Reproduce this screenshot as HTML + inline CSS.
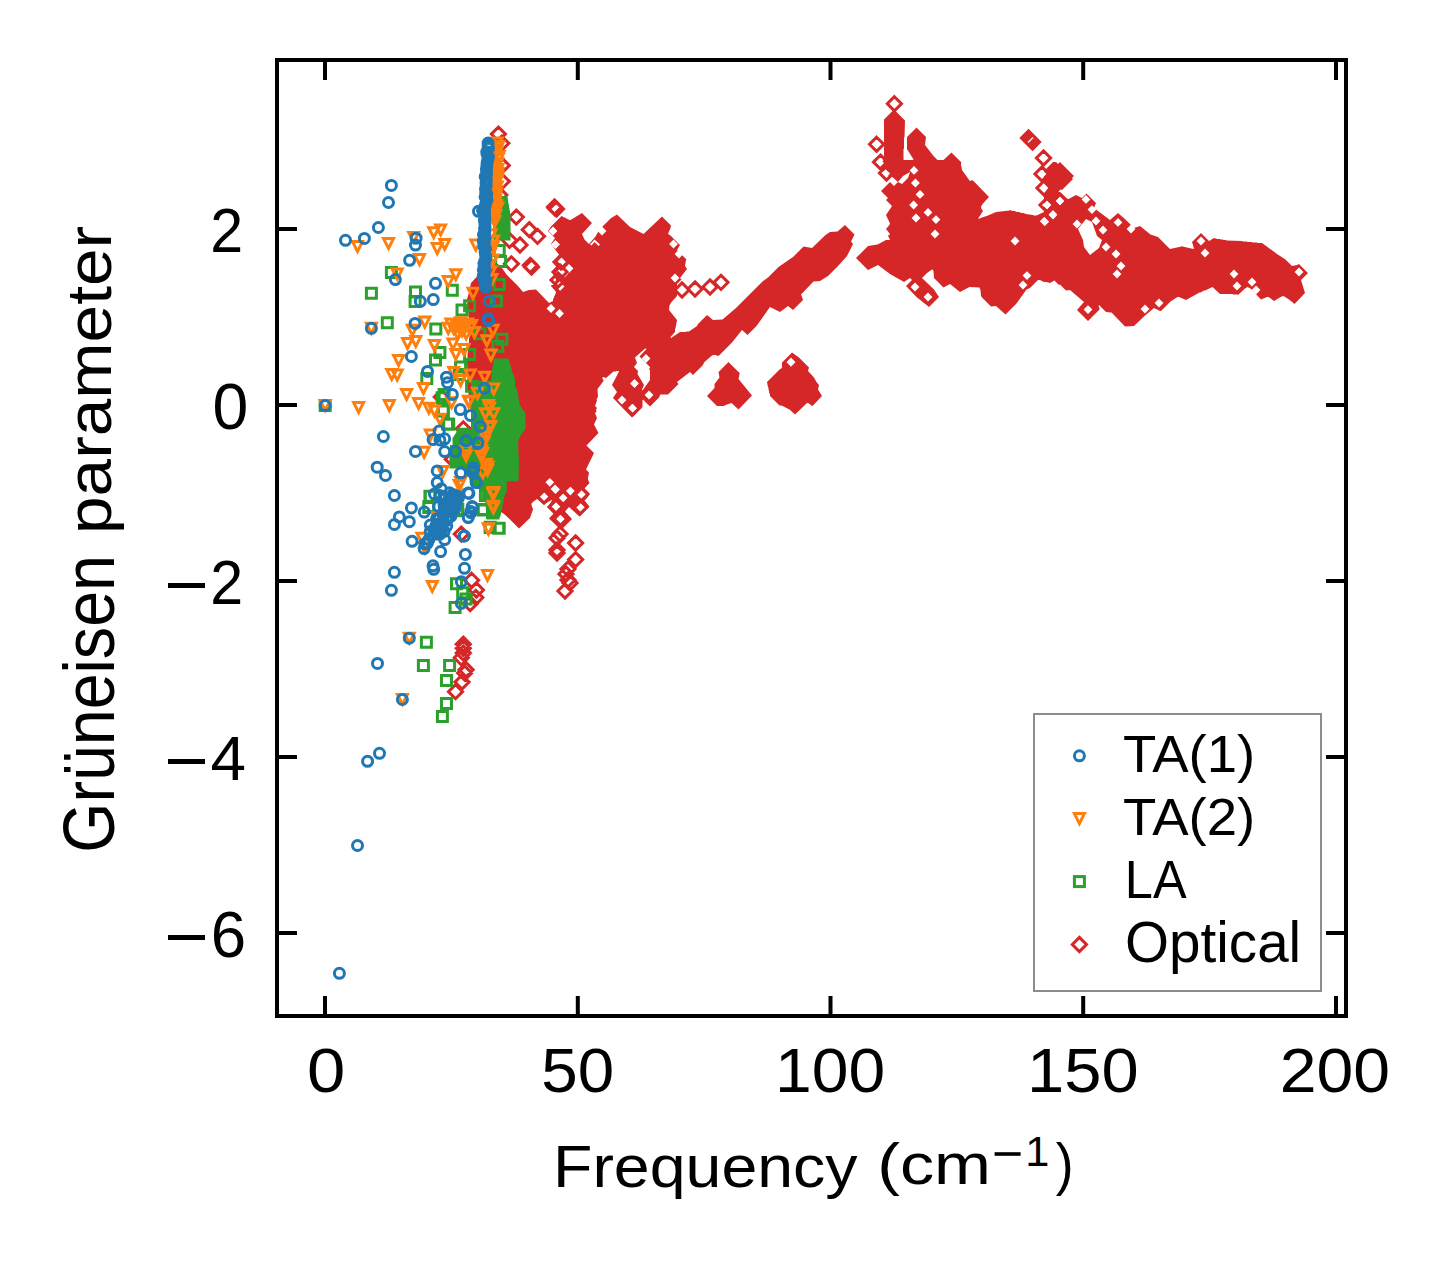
<!DOCTYPE html>
<html><head><meta charset="utf-8"><title>Gruneisen parameter</title>
<style>
html,body{margin:0;padding:0;background:#fff;}
body{width:1451px;height:1264px;overflow:hidden;font-family:"Liberation Sans",sans-serif;}
svg{display:block;}
text{font-family:"Liberation Sans",sans-serif;fill:#000;}
</style></head><body>
<svg width="1451" height="1264" viewBox="0 0 1451 1264">
<rect width="1451" height="1264" fill="#fff"/>
<defs>
<clipPath id="ax"><rect x="277" y="60" width="1069" height="956"/></clipPath>
</defs>
<g id="data" clip-path="url(#ax)">
<path d="M728.5 362 718.5 372 719.5 377.5 714.5 384 714.5 388 707 396 717 406 724 406 725.5 405 731.5 403 738.5 409.5 752 395.5 738.5 379 739.5 374 740 373.5zM792 352.5 782 362.5 782 368 779.5 369.5 767 382 767 383 767.5 383.5 767.5 385.5 768.5 388 768.5 390 769 390.5 769 392.5 770 394.5 770 396 779.5 405.5 781.5 405.5 789.5 409.5 795 414.5 807 403 809 403.5 812 406 813 405.5 822 396 818 389.5 819 385 816.5 382 814 377.5 808 371 809 367.5 799 357.5zM854.5 234.5 845 225 837.5 231.5 830 232 825.5 235 812 248 803.5 246.5 793 257 778.5 267 768 277.5 762.5 281.5 736 308 722.5 319.5 713 320 707 315 698 324 697 326 689 331.5 686 331.5 685.5 332 680 332 671 338 670.5 337 675 332 675 329 675.5 328.5 677 320 669 310 669.5 305.5 671.5 302 677 296 677 284 681.5 279.5 680 278 687 269 685 266 686 260 686.5 259.5 677 250 680 245 670.5 235.5 668 234 670.5 228 671 225.5 662 216.5 643.5 234 630 227 617 214.5 610.5 218.5 599.5 229.5 595.5 236.5 589 244 584.5 239.5 582 234 592 223 582 213 570.5 220 569.5 220 561.5 216 551 226.5 548 231 555 238 551 244 560 256 554 262 557 268 553 274 556 279.5 555.5 282 553 288 555.5 291 556 292.5 553 299.5 553 301 549 303 536 289.5 529 290 523 292 518 286 506.5 274.5 502 268 492.5 259 483.5 268 483 270 471 283 469.5 290 469 290.5 469 292.5 467 299 468 312 468.5 312.5 468.5 317 469 317.5 469 322 469.5 322.5 469.5 327 470 327.5 470 332.5 469.5 333 469.5 337.5 469 338 469 342.5 468.5 343 468.5 347.5 468 348 468 352.5 467.5 353 467.5 357.5 467 358 467.5 382 468 382.5 468 391.5 468.5 392 468.5 395.5 469 396 469.5 403 470 403.5 470.5 410.5 471 411 471.5 418 472 418.5 470 450.5 470.5 451 471.5 456.5 472.5 458.5 472.5 460 474.5 466 474.5 467.5 476.5 473.5 478 480.5 484 492 484 493 487.5 500 497.5 510 504 514 508.5 518 519 528.5 530 518 533 509.5 531.5 505 531.5 503.5 533.5 501.5 537 499 543.5 504.5 551.5 500 552 500.5 548.5 506 554.5 512.5 549 518.5 561 530 572 519 565 511.5 569 507 579.5 516.5 589.5 506.5 584.5 500.5 587 498 589 495 583.5 489.5 589.5 483 588 479.5 588 476.5 588.5 476 589 472.5 586 469.5 594 453 586.5 445.5 598.5 433 594 424.5 597 418 595 413 596.5 411.5 596 409.5 597 408 595 406 597 400.5 596.5 399.5 598 396.5 597.5 389 603.5 381 603.5 380 602.5 379 602.5 377.5 603.5 377 606 378 613.5 371.5 616 371.5 616.5 371 618.5 371 619 371.5 612 385 617 392 613 398 632 417.5 642.5 407 642.5 400 643 399.5 650 406.5 659.5 397 659.5 396 660.5 394.5 668 394.5 678.5 384 677 382 690 372 693 375 702.5 365.5 704.5 362 712 355.5 713 355 715.5 355 718 356 719 355.5 732 342.5 742 330 747.5 335 756.5 326 770 307 780 312 788 306 793 310 803 300 801 294 802 293.5 813.5 281.5 820 281 828 276 838.5 265.5 847 256 853 244 851 241.5zM646 348.5 646.5 349 639.5 356.5 650 367 650 368 649 369 650 370.5 650 380 642.5 390.5 642 389.5 644 385 637.5 374 638 371 634 367 637 363 635 357.5 644.5 349zM884 119.5 884 159.5 878 166 888 176 890 175 898 182 894 186 890 182 881 191 888 198 886 200 892 206 886 215 890 223.5 889 225.5 886 229 890 234 888 236 890 239.5 889.5 240 886 240 877.5 244.5 868 246 856 258 868 270 878 265 890 274 904 282 910 278 912 280 906 286 916.5 297 929 307 939 297 934 289.5 922 278 927 273 932 269.5 933 270 933.5 271.5 934 278 943.5 287.5 950 284 960 292 969.5 287 979.5 287.5 980.5 290 981 296 982 297.5 991 306.5 996 306 1005.5 314.5 1016.5 303.5 1026.5 289.5 1030 288 1038 280 1040 280 1044 282 1046.5 282 1050 283 1054.5 280.5 1059 285 1060 284.5 1066 290.5 1070 290 1084 302 1077 310 1088 321 1099.5 309.5 1099.5 308 1098.5 306 1099 305 1106 312 1111.5 312.5 1125 326.5 1134 326 1144.5 316 1154 308 1160 311 1161 311 1170.5 301.5 1177.5 297 1179 297 1186 300 1199.5 292.5 1200.5 292.5 1204 290.5 1205 290.5 1212.5 287 1220 294 1232.5 294 1233 294.5 1237.5 294.5 1238 295 1245 288.5 1247.5 287 1250.5 288.5 1261 299.5 1267 297 1268.5 297 1274 301 1281.5 296.5 1283.5 296 1289 299.5 1294.5 304 1305 293 1301 280 1308 273 1299 264 1297 265 1292 266 1285.5 259.5 1277 254 1262 243 1257.5 243 1257 242.5 1252.5 242.5 1252 242 1247.5 242 1247 241.5 1242.5 241.5 1242 241 1226.5 240.5 1226 240 1223.5 240 1223 239.5 1220.5 239.5 1220 239 1217.5 239 1214 238 1209 241 1201 233 1192 242 1194 248.5 1193.5 249 1182.5 246.5 1182 246 1181.5 246.5 1170 249 1158 237 1150.5 234.5 1140 226 1134 228 1126 220 1118 213 1110 220 1094 208 1096 203 1086.5 193.5 1082 198 1076 195 1068.5 199 1067 198.5 1058.5 191.5 1060.5 189.5 1062 190 1073 179 1072 178 1074 176 1060 162 1058 164 1056 162 1053 162 1044 171 1044 188 1047.5 191.5 1044 195 1044 212 1036.5 215.5 1033.5 215.5 1033 215 1026 214 1023.5 213 1021.5 213 1019 212 1017 212 1014.5 211 1012.5 211 1010 210 1009.5 210.5 996 212 988 215.5 980.5 218 979 219 978.5 218 983 211 981.5 209 981 206.5 983 203.5 989 197 973.5 181 972 180 970.5 181 969.5 180.5 962 170 961.5 166.5 961 166 961 163 961.5 162.5 951.5 152.5 943.5 160 937.5 160 933.5 156 925 145 926 137 916.5 127.5 907 137 907 149 913.5 159.5 913 160 904 160 903.5 159.5 903.5 149 904 148.5 904 137.5 904.5 137 905 120.5 894 109.5z" fill="#d62728" fill-rule="evenodd"/>
<path d="M879.6 158.6l4.4 4.4-4.4 4.4-4.4-4.4zM885.6 169.2l4.4 4.4-4.4 4.4-4.4-4.4zM914 166l4.4 4.4-4.4 4.4-4.4-4.4zM915.4 178.6l4.4 4.4-4.4 4.4-4.4-4.4zM920 190l4.4 4.4-4.4 4.4-4.4-4.4zM913.6 200.6l4.4 4.4-4.4 4.4-4.4-4.4zM928 208l4.4 4.4-4.4 4.4-4.4-4.4zM936 215.2l4.4 4.4-4.4 4.4-4.4-4.4zM916 213.6l4.4 4.4-4.4 4.4-4.4-4.4zM935 229.6l4.4 4.4-4.4 4.4-4.4-4.4zM915 282.6l4.4 4.4-4.4 4.4-4.4-4.4zM928 292.6l4.4 4.4-4.4 4.4-4.4-4.4zM1042 169.6l4.4 4.4-4.4 4.4-4.4-4.4zM1044 183.6l4.4 4.4-4.4 4.4-4.4-4.4zM1047 200.6l4.4 4.4-4.4 4.4-4.4-4.4zM1045 217.6l4.4 4.4-4.4 4.4-4.4-4.4zM1053 209.6l4.4 4.4-4.4 4.4-4.4-4.4zM1015 236.6l4.4 4.4-4.4 4.4-4.4-4.4zM1027 271.2l4.4 4.4-4.4 4.4-4.4-4.4zM1023 280.6l4.4 4.4-4.4 4.4-4.4-4.4zM791 357.6l4.4 4.4-4.4 4.4-4.4-4.4zM1043.6 153.6l4.4 4.4-4.4 4.4-4.4-4.4zM1042 169.6l4.4 4.4-4.4 4.4-4.4-4.4zM1044 183.6l4.4 4.4-4.4 4.4-4.4-4.4zM1047 200.6l4.4 4.4-4.4 4.4-4.4-4.4zM1060 196.6l4.4 4.4-4.4 4.4-4.4-4.4zM1053 210.6l4.4 4.4-4.4 4.4-4.4-4.4zM1044 216.6l4.4 4.4-4.4 4.4-4.4-4.4zM1077 219.6l4.4 4.4-4.4 4.4-4.4-4.4zM1086 195l4.4 4.4-4.4 4.4-4.4-4.4zM1092 205.2l4.4 4.4-4.4 4.4-4.4-4.4zM1096 216.6l4.4 4.4-4.4 4.4-4.4-4.4zM1103 225.6l4.4 4.4-4.4 4.4-4.4-4.4zM1118 218l4.4 4.4-4.4 4.4-4.4-4.4zM1131 224.6l4.4 4.4-4.4 4.4-4.4-4.4zM1106 242.6l4.4 4.4-4.4 4.4-4.4-4.4zM1116 249.6l4.4 4.4-4.4 4.4-4.4-4.4zM1121 261.6l4.4 4.4-4.4 4.4-4.4-4.4zM1117 269.6l4.4 4.4-4.4 4.4-4.4-4.4zM1201 236.6l4.4 4.4-4.4 4.4-4.4-4.4zM1205 248.6l4.4 4.4-4.4 4.4-4.4-4.4zM1088 305.2l4.4 4.4-4.4 4.4-4.4-4.4zM1145 304.6l4.4 4.4-4.4 4.4-4.4-4.4zM1159 298.6l4.4 4.4-4.4 4.4-4.4-4.4zM1256 285.6l4.4 4.4-4.4 4.4-4.4-4.4zM1299 267.6l4.4 4.4-4.4 4.4-4.4-4.4zM1252 277.6l4.4 4.4-4.4 4.4-4.4-4.4zM1237 281.6l4.4 4.4-4.4 4.4-4.4-4.4zM1234 269.6l4.4 4.4-4.4 4.4-4.4-4.4zM791 357.9l4.4 4.4-4.4 4.4-4.4-4.4zM634.5 379.1l4.4 4.4-4.4 4.4-4.4-4.4zM622 395.6l4.4 4.4-4.4 4.4-4.4-4.4zM632.5 403.6l4.4 4.4-4.4 4.4-4.4-4.4zM632.8 404l4.4 4.4-4.4 4.4-4.4-4.4zM649 390.6l4.4 4.4-4.4 4.4-4.4-4.4zM646 354.1l4.4 4.4-4.4 4.4-4.4-4.4zM549.8 477.9l4.4 4.4-4.4 4.4-4.4-4.4zM555.5 485.1l4.4 4.4-4.4 4.4-4.4-4.4zM555 484.6l4.4 4.4-4.4 4.4-4.4-4.4zM544.2 492.6l4.4 4.4-4.4 4.4-4.4-4.4zM563.2 493.4l4.4 4.4-4.4 4.4-4.4-4.4zM556 502.1l4.4 4.4-4.4 4.4-4.4-4.4zM570.4 486.7l4.4 4.4-4.4 4.4-4.4-4.4zM581.7 490.3l4.4 4.4-4.4 4.4-4.4-4.4zM580.7 503.2l4.4 4.4-4.4 4.4-4.4-4.4zM560.6 514.5l4.4 4.4-4.4 4.4-4.4-4.4zM562 257.1l4.4 4.4-4.4 4.4-4.4-4.4zM560 268.6l4.4 4.4-4.4 4.4-4.4-4.4zM564 269.1l4.4 4.4-4.4 4.4-4.4-4.4zM558 279.6l4.4 4.4-4.4 4.4-4.4-4.4zM561.5 283.6l4.4 4.4-4.4 4.4-4.4-4.4zM553 226.6l4.4 4.4-4.4 4.4-4.4-4.4zM602 226.6l4.4 4.4-4.4 4.4-4.4-4.4zM673.5 239.6l4.4 4.4-4.4 4.4-4.4-4.4zM679 249.6l4.4 4.4-4.4 4.4-4.4-4.4zM675 273.6l4.4 4.4-4.4 4.4-4.4-4.4zM682 284.6l4.4 4.4-4.4 4.4-4.4-4.4zM551 304.1l4.4 4.4-4.4 4.4-4.4-4.4zM559.5 309.1l4.4 4.4-4.4 4.4-4.4-4.4zM555.5 240.1l4.4 4.4-4.4 4.4-4.4-4.4zM569 264.1l4.4 4.4-4.4 4.4-4.4-4.4zM898 182 903 176 910 172 908 178 902 184zM1080 228 1088 220 1096 238 1100 240 1098 248 1090 253 1085 246 1086 240zM1078 229 1086 219 1092 222 1097 236 1102 240 1099 248 1090 255 1084 247 1083 240zM590 244.5 594.5 239.5 600 244.5 598.5 246 594.5 242 591.5 245.5z" fill="#fff"/>
<path d="M555 200.9l7.07 7.07-7.07 7.07-7.07-7.07zM682 282.9l7.07 7.07-7.07 7.07-7.07-7.07zM695 281.9l7.07 7.07-7.07 7.07-7.07-7.07zM710 279.9l7.07 7.07-7.07 7.07-7.07-7.07zM721 275.3l7.07 7.07-7.07 7.07-7.07-7.07zM544 488.9l7.07 7.07-7.07 7.07-7.07-7.07zM563 490.9l7.07 7.07-7.07 7.07-7.07-7.07zM556 499.9l7.07 7.07-7.07 7.07-7.07-7.07zM580 499.9l7.07 7.07-7.07 7.07-7.07-7.07zM581 486.9l7.07 7.07-7.07 7.07-7.07-7.07zM560 511.9l7.07 7.07-7.07 7.07-7.07-7.07zM560 526.9l7.07 7.07-7.07 7.07-7.07-7.07zM557 530.9l7.07 7.07-7.07 7.07-7.07-7.07zM557 542.9l7.07 7.07-7.07 7.07-7.07-7.07zM557 545.9l7.07 7.07-7.07 7.07-7.07-7.07zM575.6 535.9l7.07 7.07-7.07 7.07-7.07-7.07zM575.6 552.5l7.07 7.07-7.07 7.07-7.07-7.07zM568 561.9l7.07 7.07-7.07 7.07-7.07-7.07zM566 566.9l7.07 7.07-7.07 7.07-7.07-7.07zM568 572.9l7.07 7.07-7.07 7.07-7.07-7.07zM570 575.9l7.07 7.07-7.07 7.07-7.07-7.07zM565 583.9l7.07 7.07-7.07 7.07-7.07-7.07zM632.4 400.9l7.07 7.07-7.07 7.07-7.07-7.07zM894.4 96.7l7.07 7.07-7.07 7.07-7.07-7.07zM876.6 137.2l7.07 7.07-7.07 7.07-7.07-7.07zM880.5 155l7.07 7.07-7.07 7.07-7.07-7.07zM886.5 165.9l7.07 7.07-7.07 7.07-7.07-7.07zM498.4 127l7.07 7.07-7.07 7.07-7.07-7.07zM501.8 136.2l7.07 7.07-7.07 7.07-7.07-7.07zM502.3 158.4l7.07 7.07-7.07 7.07-7.07-7.07zM502.3 174.3l7.07 7.07-7.07 7.07-7.07-7.07zM499.8 187.9l7.07 7.07-7.07 7.07-7.07-7.07zM516.3 210l7.07 7.07-7.07 7.07-7.07-7.07zM529.3 222.6l7.07 7.07-7.07 7.07-7.07-7.07zM554.5 199.9l7.07 7.07-7.07 7.07-7.07-7.07zM556.5 201.9l7.07 7.07-7.07 7.07-7.07-7.07zM537.5 229.3l7.07 7.07-7.07 7.07-7.07-7.07zM520 237.9l7.07 7.07-7.07 7.07-7.07-7.07zM530.3 258.3l7.07 7.07-7.07 7.07-7.07-7.07zM531.5 259.9l7.07 7.07-7.07 7.07-7.07-7.07zM511.4 256.8l7.07 7.07-7.07 7.07-7.07-7.07zM509.5 233.2l7.07 7.07-7.07 7.07-7.07-7.07zM561 254.9l7.07 7.07-7.07 7.07-7.07-7.07zM560 264.9l7.07 7.07-7.07 7.07-7.07-7.07zM558 272.9l7.07 7.07-7.07 7.07-7.07-7.07zM560 278.9l7.07 7.07-7.07 7.07-7.07-7.07zM441.3 389.9l7.07 7.07-7.07 7.07-7.07-7.07zM463.3 421.8l7.07 7.07-7.07 7.07-7.07-7.07zM452.3 452.1l7.07 7.07-7.07 7.07-7.07-7.07zM461.3 527l7.07 7.07-7.07 7.07-7.07-7.07zM1028.5 130.9l7.07 7.07-7.07 7.07-7.07-7.07zM1030.5 132.9l7.07 7.07-7.07 7.07-7.07-7.07zM1032.5 134.9l7.07 7.07-7.07 7.07-7.07-7.07zM1043.5 150.9l7.07 7.07-7.07 7.07-7.07-7.07zM1042 166.9l7.07 7.07-7.07 7.07-7.07-7.07zM1044 180.9l7.07 7.07-7.07 7.07-7.07-7.07zM1047 197.9l7.07 7.07-7.07 7.07-7.07-7.07zM1044.5 214.4l7.07 7.07-7.07 7.07-7.07-7.07zM1053 207.9l7.07 7.07-7.07 7.07-7.07-7.07zM1060 193.9l7.07 7.07-7.07 7.07-7.07-7.07zM471.6 573.2l7.07 7.07-7.07 7.07-7.07-7.07zM476.4 582.9l7.07 7.07-7.07 7.07-7.07-7.07zM475.8 590.4l7.07 7.07-7.07 7.07-7.07-7.07zM470.2 596.6l7.07 7.07-7.07 7.07-7.07-7.07zM463.3 637.1l7.07 7.07-7.07 7.07-7.07-7.07zM463.3 641.2l7.07 7.07-7.07 7.07-7.07-7.07zM463.3 646l7.07 7.07-7.07 7.07-7.07-7.07zM461.3 650.8l7.07 7.07-7.07 7.07-7.07-7.07zM466.1 662.6l7.07 7.07-7.07 7.07-7.07-7.07zM464.7 666l7.07 7.07-7.07 7.07-7.07-7.07zM462 675l7.07 7.07-7.07 7.07-7.07-7.07zM455.5 684.6l7.07 7.07-7.07 7.07-7.07-7.07z" fill="none" stroke="#d62728" stroke-width="3"/>
<path d="M508.5 358.5 493.5 358.5 493 365 492.5 365.5 492.5 369.5 492 370 492 374 491.5 374.5 491.5 378.5 490.5 380.5 471 380.5 471 429 470.5 429.5 458 430 452.5 438 452.5 466.5 455 466.5 458 467.5 466 468.5 467 470 467 471.5 467.5 472 467.5 473.5 468 474 468 475.5 468.5 476 471 486.5 484.5 491 486.5 517.5 500 517.5 501 514 501 512 502.5 507.5 502.5 505.5 503.5 503 503.5 500.5 504 500 504 497 504.5 496.5 506.5 482 507 481.5 518.5 480 518.5 461.5 518 461 517.5 442 521.5 434 525.5 429 525.5 413.5 519.5 404.5 519 399.5 518.5 399 518.5 396 518 395.5 518 392.5 517.5 392 517.5 390.5 515 386 515 378.5 512 371.5 512 370 511 368 511 366.5 510 364.5 510 363zM492 196.5 492 212.5 492.5 213 492.5 223.5 493 224 493.5 240.5 510.5 240.5 510.5 214 510 213.5 510 211 509.5 210.5 509.5 208 509 207.5 509 204.5 508.5 204 507.5 196.5z" fill="#2ca02c" fill-rule="evenodd"/>
<path d="M386.4 267.4h10v10h-10zM366.4 288.3h10v10h-10zM410.5 287h10v10h-10zM410.1 296.6h10v10h-10zM447.3 285.3h10v10h-10zM464.6 300.8h10v10h-10zM457 304.9h10v10h-10zM495.6 197.4h10v10h-10zM495.6 224.9h10v10h-10zM494.2 245.6h10v10h-10zM495.6 256.6h10v10h-10zM494.2 279.4h10v10h-10zM491.4 295.9h10v10h-10zM382.3 317.8h10v10h-10zM430.8 324h10v10h-10zM434.9 347.4h10v10h-10zM430.5 355h10v10h-10zM421.8 373.6h10v10h-10zM464.6 349.5h10v10h-10zM455.6 361.9h10v10h-10zM474.9 328.8h10v10h-10zM496.9 334.3h10v10h-10zM492.8 341.2h10v10h-10zM438.4 406h10v10h-10zM442.5 419.1h10v10h-10zM459 430.8h10v10h-10zM451.5 446.6h10v10h-10zM452.1 457h10v10h-10zM485.9 476.3h10v10h-10zM492.8 472.1h10v10h-10zM505.2 455.6h10v10h-10zM506.6 469.4h10v10h-10zM466.6 381.2h10v10h-10zM454.2 369.4h10v10h-10zM439.1 389.4h10v10h-10zM320.2 400.5h10v10h-10zM425.3 491.2h10v10h-10zM423.9 501.5h10v10h-10zM452.8 504.3h10v10h-10zM478.3 505h10v10h-10zM488 507.1h10v10h-10zM485.2 522.2h10v10h-10zM494.2 523.3h10v10h-10zM451.5 578.7h10v10h-10zM457.7 587.7h10v10h-10zM461.1 593.9h10v10h-10zM450.1 602.4h10v10h-10zM421.4 637.3h10v10h-10zM492.8 486.4h10v10h-10zM480.4 490.5h10v10h-10zM418.4 660.5h10v10h-10zM444.6 660.5h10v10h-10zM441.5 675.4h10v10h-10zM441.5 698.4h10v10h-10zM437.4 711.5h10v10h-10zM451.8 456.7h10v10h-10zM488.4 436.9h10v10h-10zM504.8 436.9h10v10h-10zM506.8 444.2h10v10h-10zM507.3 455.8h10v10h-10zM493.3 456.7h10v10h-10zM506.8 469.7h10v10h-10zM490.8 465.9h10v10h-10zM499.1 468.3h10v10h-10zM487.5 475.5h10v10h-10zM493.3 473.6h10v10h-10zM495.2 481.3h10v10h-10zM483.6 489.1h10v10h-10zM490.4 492.9h10v10h-10zM478.3 504.5h10v10h-10zM487.5 507.4h10v10h-10zM493.7 523.3h10v10h-10zM485.1 522.4h10v10h-10zM438.2 404.9h10v10h-10zM443.7 419.3h10v10h-10zM437.1 392.7h10v10h-10zM458.1 429.3h10v10h-10zM450.9 456.9h10v10h-10zM424.9 491.3h10v10h-10zM423.8 502.4h10v10h-10zM452.6 505.7h10v10h-10zM478.1 504.6h10v10h-10zM488 507.9h10v10h-10z" fill="none" stroke="#2ca02c" stroke-width="3"/>
<path d="M352.5 241.5h10l-5 10zM383.5 238.5h10l-5 10zM408.7 232.5h10l-5 10zM428.7 227.7h10l-5 10zM435.6 224.9h10l-5 10zM439.7 239.4h10l-5 10zM432.2 243.6h10l-5 10zM414.5 254.6h10l-5 10zM392.2 269.1h10l-5 10zM450.8 269.7h10l-5 10zM443.2 276.6h10l-5 10zM468 288.3h10l-5 10zM492.8 202.9h10l-5 10zM488.7 236h10l-5 10zM470.8 240.1h10l-5 10zM366.4 323.3h10l-5 10zM320.2 400.5h10l-5 10zM353.6 402.5h10l-5 10zM384.3 400.5h10l-5 10zM401.6 389.4h10l-5 10zM418.4 383.5h10l-5 10zM413.6 398.4h10l-5 10zM423.9 403.2h10l-5 10zM429.4 406h10l-5 10zM434.9 414.2h10l-5 10zM393.6 355.4h10l-5 10zM386.7 369.4h10l-5 10zM392.2 370.1h10l-5 10zM402.5 338.4h10l-5 10zM410.8 336.4h10l-5 10zM407.4 325.3h10l-5 10zM419.8 317.1h10l-5 10zM429.4 340.5h10l-5 10zM448 339.1h10l-5 10zM450.8 349.5h10l-5 10zM459 344.6h10l-5 10zM485.9 350.1h10l-5 10zM481.8 335.7h10l-5 10zM488 325.3h10l-5 10zM448.7 367.4h10l-5 10zM465.2 370.1h10l-5 10zM479.7 372.2h10l-5 10zM455.6 375.6h10l-5 10zM488.7 383.9h10l-5 10zM446.6 397.7h10l-5 10zM463.9 396.3h10l-5 10zM484.5 403.2h10l-5 10zM488.7 408.7h10l-5 10zM480.4 408.7h10l-5 10zM484.5 422.5h10l-5 10zM480.4 432.2h10l-5 10zM419.1 447.3h10l-5 10zM425.3 430.1h10l-5 10zM461.1 450.8h10l-5 10zM476.3 451.5h10l-5 10zM482.5 465.2h10l-5 10zM454.2 480.4h10l-5 10zM437.7 466.6h10l-5 10zM488.7 488.7h10l-5 10zM443.2 323.3h10l-5 10zM448.7 323.3h10l-5 10zM454.2 323.3h10l-5 10zM459.7 323.3h10l-5 10zM465.2 323.3h10l-5 10zM452.8 328.8h10l-5 10zM461.1 328.8h10l-5 10zM466.6 320.5h10l-5 10zM445.9 319.1h10l-5 10zM455.6 317.8h10l-5 10zM469.4 327.4h10l-5 10zM451.5 320.5h10l-5 10zM462.5 319.1h10l-5 10zM457 326h10l-5 10zM404.3 633.2h10l-5 10zM427.3 581.5h10l-5 10zM482.5 570.5h10l-5 10zM483.4 524.3h10l-5 10zM488.4 502.9h10l-5 10zM488 489.1h10l-5 10zM452.8 491.2h10l-5 10zM432.2 512.6h10l-5 10zM429.4 529.1h10l-5 10zM419.8 542.9h10l-5 10zM417 533.2h10l-5 10zM397.4 694.5h10l-5 10zM460.9 446.6h10l-5 10zM477.8 448.5h10l-5 10zM483.1 462h10l-5 10zM455.6 477.5h10l-5 10zM477.8 467.8h10l-5 10zM488.4 487.6h10l-5 10zM488.4 501.6h10l-5 10zM483.4 523.8h10l-5 10zM451.8 490h10l-5 10zM463.7 397.1h10l-5 10zM472.5 388.3h10l-5 10zM483.6 400.5h10l-5 10zM485.8 421.5h10l-5 10zM482.5 428.2h10l-5 10zM479.2 437h10l-5 10zM476.9 445.9h10l-5 10zM481.4 459.2h10l-5 10zM488 489.1h10l-5 10zM488 501.2h10l-5 10zM492.2 138.1h10l-5 10zM493.5 141.4h10l-5 10zM492.2 145h10l-5 10zM491.8 148h10l-5 10zM494.2 151.6h10l-5 10zM493.1 154.5h10l-5 10zM492.6 158.4h10l-5 10zM491.2 161.8h10l-5 10zM492.9 164.6h10l-5 10zM492.7 168.3h10l-5 10zM492.7 171.5h10l-5 10zM492.6 175.2h10l-5 10zM490.4 177.9h10l-5 10zM492.2 182.1h10l-5 10zM490.8 185h10l-5 10zM491.6 188.2h10l-5 10zM490.8 191.5h10l-5 10zM490.6 195.1h10l-5 10zM490.2 198h10l-5 10zM491.3 200.8h10l-5 10zM490.5 204.6h10l-5 10zM489.4 207.2h10l-5 10zM490.7 210.4h10l-5 10zM488.6 213.7h10l-5 10zM489.8 216.5h10l-5 10zM486.1 229.7h10l-5 10zM488.4 236.1h10l-5 10zM488.3 241.8h10l-5 10zM485.4 249.1h10l-5 10zM487.9 254.9h10l-5 10zM484.4 260.5h10l-5 10zM485.6 266.9h10l-5 10zM486.8 274.4h10l-5 10z" fill="none" stroke="#ff7f0e" stroke-width="3"/>
<path d="M386.4 185.4a5 5 0 1 0 10 0a5 5 0 1 0-10 0zM383.5 202.5a5 5 0 1 0 10 0a5 5 0 1 0-10 0zM373.4 227.5a5 5 0 1 0 10 0a5 5 0 1 0-10 0zM340.5 240.3a5 5 0 1 0 10 0a5 5 0 1 0-10 0zM359.4 238.4a5 5 0 1 0 10 0a5 5 0 1 0-10 0zM411.1 238.2a5 5 0 1 0 10 0a5 5 0 1 0-10 0zM410.5 245.1a5 5 0 1 0 10 0a5 5 0 1 0-10 0zM404.6 260.3a5 5 0 1 0 10 0a5 5 0 1 0-10 0zM390.4 279.6a5 5 0 1 0 10 0a5 5 0 1 0-10 0zM430.5 283.3a5 5 0 1 0 10 0a5 5 0 1 0-10 0zM428.3 299.6a5 5 0 1 0 10 0a5 5 0 1 0-10 0zM415.3 301.3a5 5 0 1 0 10 0a5 5 0 1 0-10 0zM477.6 210.6a5 5 0 1 0 10 0a5 5 0 1 0-10 0zM473.5 211.3a5 5 0 1 0 10 0a5 5 0 1 0-10 0zM479.7 269.2a5 5 0 1 0 10 0a5 5 0 1 0-10 0zM481.1 280.9a5 5 0 1 0 10 0a5 5 0 1 0-10 0zM480.4 285.8a5 5 0 1 0 10 0a5 5 0 1 0-10 0zM484.5 301.2a5 5 0 1 0 10 0a5 5 0 1 0-10 0zM483.2 318.8a5 5 0 1 0 10 0a5 5 0 1 0-10 0zM366.4 328.3a5 5 0 1 0 10 0a5 5 0 1 0-10 0zM410.1 323.4a5 5 0 1 0 10 0a5 5 0 1 0-10 0zM483.8 320.7a5 5 0 1 0 10 0a5 5 0 1 0-10 0zM406.4 356.5a5 5 0 1 0 10 0a5 5 0 1 0-10 0zM422.5 371.4a5 5 0 1 0 10 0a5 5 0 1 0-10 0zM441.5 377.2a5 5 0 1 0 10 0a5 5 0 1 0-10 0zM442.5 382.7a5 5 0 1 0 10 0a5 5 0 1 0-10 0zM447.3 394.4a5 5 0 1 0 10 0a5 5 0 1 0-10 0zM479.4 388.2a5 5 0 1 0 10 0a5 5 0 1 0-10 0zM455.3 409.6a5 5 0 1 0 10 0a5 5 0 1 0-10 0zM465.5 415.4a5 5 0 1 0 10 0a5 5 0 1 0-10 0zM475.3 426.4a5 5 0 1 0 10 0a5 5 0 1 0-10 0zM378.4 436.5a5 5 0 1 0 10 0a5 5 0 1 0-10 0zM434.2 431a5 5 0 1 0 10 0a5 5 0 1 0-10 0zM428 439.6a5 5 0 1 0 10 0a5 5 0 1 0-10 0zM439.7 438.8a5 5 0 1 0 10 0a5 5 0 1 0-10 0zM434.9 439.9a5 5 0 1 0 10 0a5 5 0 1 0-10 0zM461.1 440.6a5 5 0 1 0 10 0a5 5 0 1 0-10 0zM472.8 443.4a5 5 0 1 0 10 0a5 5 0 1 0-10 0zM410.5 451.4a5 5 0 1 0 10 0a5 5 0 1 0-10 0zM439.7 451.6a5 5 0 1 0 10 0a5 5 0 1 0-10 0zM450.8 451.6a5 5 0 1 0 10 0a5 5 0 1 0-10 0zM372.2 467.2a5 5 0 1 0 10 0a5 5 0 1 0-10 0zM380.5 475.5a5 5 0 1 0 10 0a5 5 0 1 0-10 0zM432.2 470.9a5 5 0 1 0 10 0a5 5 0 1 0-10 0zM455.6 473a5 5 0 1 0 10 0a5 5 0 1 0-10 0zM468.7 469.6a5 5 0 1 0 10 0a5 5 0 1 0-10 0zM471.4 482.6a5 5 0 1 0 10 0a5 5 0 1 0-10 0zM432.2 482.6a5 5 0 1 0 10 0a5 5 0 1 0-10 0zM436.3 488.8a5 5 0 1 0 10 0a5 5 0 1 0-10 0zM463.2 493a5 5 0 1 0 10 0a5 5 0 1 0-10 0zM320.2 405.5a5 5 0 1 0 10 0a5 5 0 1 0-10 0zM389.4 495.5a5 5 0 1 0 10 0a5 5 0 1 0-10 0zM406.4 507.9a5 5 0 1 0 10 0a5 5 0 1 0-10 0zM394.3 516.9a5 5 0 1 0 10 0a5 5 0 1 0-10 0zM389.4 524.5a5 5 0 1 0 10 0a5 5 0 1 0-10 0zM404.3 521.7a5 5 0 1 0 10 0a5 5 0 1 0-10 0zM419.3 512.1a5 5 0 1 0 10 0a5 5 0 1 0-10 0zM407.1 541.3a5 5 0 1 0 10 0a5 5 0 1 0-10 0zM419.1 548.6a5 5 0 1 0 10 0a5 5 0 1 0-10 0zM435.6 551.6a5 5 0 1 0 10 0a5 5 0 1 0-10 0zM428 565.8a5 5 0 1 0 10 0a5 5 0 1 0-10 0zM428.7 569.3a5 5 0 1 0 10 0a5 5 0 1 0-10 0zM389.4 572.3a5 5 0 1 0 10 0a5 5 0 1 0-10 0zM386.4 590.3a5 5 0 1 0 10 0a5 5 0 1 0-10 0zM459 536.2a5 5 0 1 0 10 0a5 5 0 1 0-10 0zM460.4 554.4a5 5 0 1 0 10 0a5 5 0 1 0-10 0zM459.5 568.3a5 5 0 1 0 10 0a5 5 0 1 0-10 0zM456.3 581.7a5 5 0 1 0 10 0a5 5 0 1 0-10 0zM456.3 603.3a5 5 0 1 0 10 0a5 5 0 1 0-10 0zM404.3 638.2a5 5 0 1 0 10 0a5 5 0 1 0-10 0zM463.9 493.4a5 5 0 1 0 10 0a5 5 0 1 0-10 0zM467.3 507.2a5 5 0 1 0 10 0a5 5 0 1 0-10 0zM465.9 512.7a5 5 0 1 0 10 0a5 5 0 1 0-10 0zM463.2 517.6a5 5 0 1 0 10 0a5 5 0 1 0-10 0zM439.7 539.6a5 5 0 1 0 10 0a5 5 0 1 0-10 0zM422.5 543.1a5 5 0 1 0 10 0a5 5 0 1 0-10 0zM429.4 494.1a5 5 0 1 0 10 0a5 5 0 1 0-10 0zM434.9 495.5a5 5 0 1 0 10 0a5 5 0 1 0-10 0zM440.4 498.3a5 5 0 1 0 10 0a5 5 0 1 0-10 0zM445.9 502.4a5 5 0 1 0 10 0a5 5 0 1 0-10 0zM450.1 507.9a5 5 0 1 0 10 0a5 5 0 1 0-10 0zM439.1 505.2a5 5 0 1 0 10 0a5 5 0 1 0-10 0zM433.5 506.5a5 5 0 1 0 10 0a5 5 0 1 0-10 0zM443.2 510.7a5 5 0 1 0 10 0a5 5 0 1 0-10 0zM437.7 513.4a5 5 0 1 0 10 0a5 5 0 1 0-10 0zM445.9 516.2a5 5 0 1 0 10 0a5 5 0 1 0-10 0zM441.8 520.3a5 5 0 1 0 10 0a5 5 0 1 0-10 0zM425.3 525.1a5 5 0 1 0 10 0a5 5 0 1 0-10 0zM430.8 525.8a5 5 0 1 0 10 0a5 5 0 1 0-10 0zM436.3 527.2a5 5 0 1 0 10 0a5 5 0 1 0-10 0zM441.8 525.8a5 5 0 1 0 10 0a5 5 0 1 0-10 0zM429.4 531.4a5 5 0 1 0 10 0a5 5 0 1 0-10 0zM434.9 534.1a5 5 0 1 0 10 0a5 5 0 1 0-10 0zM439.1 531.4a5 5 0 1 0 10 0a5 5 0 1 0-10 0zM423.9 539.6a5 5 0 1 0 10 0a5 5 0 1 0-10 0zM419.8 543.8a5 5 0 1 0 10 0a5 5 0 1 0-10 0zM431.5 518.9a5 5 0 1 0 10 0a5 5 0 1 0-10 0zM450.8 496.2a5 5 0 1 0 10 0a5 5 0 1 0-10 0zM444.6 492.8a5 5 0 1 0 10 0a5 5 0 1 0-10 0zM372.5 663.4a5 5 0 1 0 10 0a5 5 0 1 0-10 0zM397.4 699.5a5 5 0 1 0 10 0a5 5 0 1 0-10 0zM374.5 753.3a5 5 0 1 0 10 0a5 5 0 1 0-10 0zM362.6 761.3a5 5 0 1 0 10 0a5 5 0 1 0-10 0zM352.5 845.5a5 5 0 1 0 10 0a5 5 0 1 0-10 0zM334.4 973.3a5 5 0 1 0 10 0a5 5 0 1 0-10 0zM460.9 441a5 5 0 1 0 10 0a5 5 0 1 0-10 0zM473 442.4a5 5 0 1 0 10 0a5 5 0 1 0-10 0zM450.3 451.6a5 5 0 1 0 10 0a5 5 0 1 0-10 0zM468.6 468a5 5 0 1 0 10 0a5 5 0 1 0-10 0zM456.1 472.8a5 5 0 1 0 10 0a5 5 0 1 0-10 0zM467.2 471.9a5 5 0 1 0 10 0a5 5 0 1 0-10 0zM471.1 482.5a5 5 0 1 0 10 0a5 5 0 1 0-10 0zM463.8 493.1a5 5 0 1 0 10 0a5 5 0 1 0-10 0zM451.8 496a5 5 0 1 0 10 0a5 5 0 1 0-10 0zM467.2 506.6a5 5 0 1 0 10 0a5 5 0 1 0-10 0zM465.8 511.4a5 5 0 1 0 10 0a5 5 0 1 0-10 0zM463.3 517.2a5 5 0 1 0 10 0a5 5 0 1 0-10 0zM459.5 536a5 5 0 1 0 10 0a5 5 0 1 0-10 0zM460.4 554.4a5 5 0 1 0 10 0a5 5 0 1 0-10 0zM483.1 143a5 5 0 1 0 10 0a5 5 0 1 0-10 0zM483.1 145.9a5 5 0 1 0 10 0a5 5 0 1 0-10 0zM483.4 148.2a5 5 0 1 0 10 0a5 5 0 1 0-10 0zM481.7 151.8a5 5 0 1 0 10 0a5 5 0 1 0-10 0zM482 154.1a5 5 0 1 0 10 0a5 5 0 1 0-10 0zM483.5 157.1a5 5 0 1 0 10 0a5 5 0 1 0-10 0zM482.8 160a5 5 0 1 0 10 0a5 5 0 1 0-10 0zM482.1 162.5a5 5 0 1 0 10 0a5 5 0 1 0-10 0zM481.9 166.1a5 5 0 1 0 10 0a5 5 0 1 0-10 0zM481.4 168.8a5 5 0 1 0 10 0a5 5 0 1 0-10 0zM481.6 171a5 5 0 1 0 10 0a5 5 0 1 0-10 0zM481.5 174.4a5 5 0 1 0 10 0a5 5 0 1 0-10 0zM480.2 176.7a5 5 0 1 0 10 0a5 5 0 1 0-10 0zM481.4 180a5 5 0 1 0 10 0a5 5 0 1 0-10 0zM481.1 183.2a5 5 0 1 0 10 0a5 5 0 1 0-10 0zM481.2 186.1a5 5 0 1 0 10 0a5 5 0 1 0-10 0zM480.5 188.9a5 5 0 1 0 10 0a5 5 0 1 0-10 0zM480.7 191.9a5 5 0 1 0 10 0a5 5 0 1 0-10 0zM481.8 193.9a5 5 0 1 0 10 0a5 5 0 1 0-10 0zM480.1 196.9a5 5 0 1 0 10 0a5 5 0 1 0-10 0zM482.1 199.9a5 5 0 1 0 10 0a5 5 0 1 0-10 0zM480.9 202.8a5 5 0 1 0 10 0a5 5 0 1 0-10 0zM480.2 205.9a5 5 0 1 0 10 0a5 5 0 1 0-10 0zM479.4 209.1a5 5 0 1 0 10 0a5 5 0 1 0-10 0zM479.6 212.4a5 5 0 1 0 10 0a5 5 0 1 0-10 0zM479.4 215.4a5 5 0 1 0 10 0a5 5 0 1 0-10 0zM479.9 218.3a5 5 0 1 0 10 0a5 5 0 1 0-10 0zM479.4 220.4a5 5 0 1 0 10 0a5 5 0 1 0-10 0zM479.9 224a5 5 0 1 0 10 0a5 5 0 1 0-10 0zM480 226.5a5 5 0 1 0 10 0a5 5 0 1 0-10 0zM479.5 229a5 5 0 1 0 10 0a5 5 0 1 0-10 0zM479.8 232.2a5 5 0 1 0 10 0a5 5 0 1 0-10 0zM478.5 234.6a5 5 0 1 0 10 0a5 5 0 1 0-10 0zM480 238.3a5 5 0 1 0 10 0a5 5 0 1 0-10 0zM478.3 241a5 5 0 1 0 10 0a5 5 0 1 0-10 0zM479.2 243.2a5 5 0 1 0 10 0a5 5 0 1 0-10 0zM479.1 246.7a5 5 0 1 0 10 0a5 5 0 1 0-10 0zM480.6 248.8a5 5 0 1 0 10 0a5 5 0 1 0-10 0zM480.1 251.7a5 5 0 1 0 10 0a5 5 0 1 0-10 0zM480.5 254.8a5 5 0 1 0 10 0a5 5 0 1 0-10 0zM480.7 258.5a5 5 0 1 0 10 0a5 5 0 1 0-10 0zM479.6 261.5a5 5 0 1 0 10 0a5 5 0 1 0-10 0zM478.9 263.6a5 5 0 1 0 10 0a5 5 0 1 0-10 0zM479.4 266.5a5 5 0 1 0 10 0a5 5 0 1 0-10 0zM478.3 269.9a5 5 0 1 0 10 0a5 5 0 1 0-10 0zM479.5 272.5a5 5 0 1 0 10 0a5 5 0 1 0-10 0zM478.3 276.1a5 5 0 1 0 10 0a5 5 0 1 0-10 0zM479.2 279a5 5 0 1 0 10 0a5 5 0 1 0-10 0zM480.8 281.3a5 5 0 1 0 10 0a5 5 0 1 0-10 0zM480 284.3a5 5 0 1 0 10 0a5 5 0 1 0-10 0zM480.6 287.2a5 5 0 1 0 10 0a5 5 0 1 0-10 0zM447.8 494.7a5 5 0 1 0 10 0a5 5 0 1 0-10 0zM453.5 497.9a5 5 0 1 0 10 0a5 5 0 1 0-10 0zM453 497.3a5 5 0 1 0 10 0a5 5 0 1 0-10 0zM445.7 498a5 5 0 1 0 10 0a5 5 0 1 0-10 0zM451.8 499a5 5 0 1 0 10 0a5 5 0 1 0-10 0zM446.7 501a5 5 0 1 0 10 0a5 5 0 1 0-10 0zM446.9 502a5 5 0 1 0 10 0a5 5 0 1 0-10 0zM451.4 501.6a5 5 0 1 0 10 0a5 5 0 1 0-10 0zM441.7 507.4a5 5 0 1 0 10 0a5 5 0 1 0-10 0zM449.9 508.7a5 5 0 1 0 10 0a5 5 0 1 0-10 0zM444.9 509.6a5 5 0 1 0 10 0a5 5 0 1 0-10 0zM449.3 506.3a5 5 0 1 0 10 0a5 5 0 1 0-10 0zM446.7 511a5 5 0 1 0 10 0a5 5 0 1 0-10 0zM445.1 510.1a5 5 0 1 0 10 0a5 5 0 1 0-10 0zM440.6 510a5 5 0 1 0 10 0a5 5 0 1 0-10 0zM439.3 509.4a5 5 0 1 0 10 0a5 5 0 1 0-10 0zM442.1 511.7a5 5 0 1 0 10 0a5 5 0 1 0-10 0zM443.6 511.3a5 5 0 1 0 10 0a5 5 0 1 0-10 0zM443.8 516.2a5 5 0 1 0 10 0a5 5 0 1 0-10 0zM443.2 518.4a5 5 0 1 0 10 0a5 5 0 1 0-10 0zM442.4 517.6a5 5 0 1 0 10 0a5 5 0 1 0-10 0zM433 519.8a5 5 0 1 0 10 0a5 5 0 1 0-10 0zM434 518.2a5 5 0 1 0 10 0a5 5 0 1 0-10 0zM438.3 520.7a5 5 0 1 0 10 0a5 5 0 1 0-10 0zM435.3 524.3a5 5 0 1 0 10 0a5 5 0 1 0-10 0zM436.7 521.9a5 5 0 1 0 10 0a5 5 0 1 0-10 0zM432.5 526.2a5 5 0 1 0 10 0a5 5 0 1 0-10 0zM434.1 526.8a5 5 0 1 0 10 0a5 5 0 1 0-10 0zM432.2 524.4a5 5 0 1 0 10 0a5 5 0 1 0-10 0zM433.3 529.2a5 5 0 1 0 10 0a5 5 0 1 0-10 0zM429 530.2a5 5 0 1 0 10 0a5 5 0 1 0-10 0zM435.9 531.4a5 5 0 1 0 10 0a5 5 0 1 0-10 0zM434.2 527.7a5 5 0 1 0 10 0a5 5 0 1 0-10 0zM431.6 534a5 5 0 1 0 10 0a5 5 0 1 0-10 0zM425.2 531.5a5 5 0 1 0 10 0a5 5 0 1 0-10 0z" fill="none" stroke="#1f77b4" stroke-width="3"/>
</g>
<g stroke="#000" stroke-width="4" fill="none">
<path d="M325.0 1016V996M325.0 60V80"/><path d="M577.8 1016V996M577.8 60V80"/><path d="M830.5 1016V996M830.5 60V80"/><path d="M1083.2 1016V996M1083.2 60V80"/><path d="M1336.0 1016V996M1336.0 60V80"/><path d="M277 229.0H297M1346 229.0H1326"/><path d="M277 405.0H297M1346 405.0H1326"/><path d="M277 581.0H297M1346 581.0H1326"/><path d="M277 757.0H297M1346 757.0H1326"/><path d="M277 933.0H297M1346 933.0H1326"/>
<rect x="277" y="60" width="1069" height="956"/>
</g>
<text x="307.0" y="1092.0" font-size="63.54" textLength="38.3" lengthAdjust="spacingAndGlyphs">0</text>
<text x="541.2" y="1092.0" font-size="63.54" textLength="72.9" lengthAdjust="spacingAndGlyphs">50</text>
<text x="775.0" y="1092.0" font-size="63.54" textLength="110.1" lengthAdjust="spacingAndGlyphs">100</text>
<text x="1027.0" y="1092.0" font-size="63.54" textLength="111.6" lengthAdjust="spacingAndGlyphs">150</text>
<text x="1279.8" y="1092.0" font-size="63.54" textLength="110.3" lengthAdjust="spacingAndGlyphs">200</text>
<text x="210.2" y="252.0" font-size="62.39" textLength="32.9" lengthAdjust="spacingAndGlyphs">2</text>
<text x="212.4" y="429.0" font-size="64.98" textLength="35.8" lengthAdjust="spacingAndGlyphs">0</text>
<text x="210.2" y="604.0" font-size="62.39" textLength="32.9" lengthAdjust="spacingAndGlyphs">2</text>
<text x="210.6" y="780.4" font-size="63.26" textLength="35.5" lengthAdjust="spacingAndGlyphs">4</text>
<text x="210.8" y="957.4" font-size="64.19" textLength="35.4" lengthAdjust="spacingAndGlyphs">6</text>
<text x="553.0" y="1187.0" font-size="59.79" textLength="304.6" lengthAdjust="spacingAndGlyphs">Frequency</text>
<text x="877.2" y="1184.2" font-size="57.11" textLength="113.8" lengthAdjust="spacingAndGlyphs">(cm</text>
<text x="1025.2" y="1166.0" font-size="42.00" textLength="24.1" lengthAdjust="spacingAndGlyphs">1</text>
<text x="1055.8" y="1184.2" font-size="57.11" textLength="17.9" lengthAdjust="spacingAndGlyphs">)</text>
<rect x="168" y="583.0" width="37" height="5" fill="#000"/><rect x="168" y="759.0" width="37" height="5" fill="#000"/><rect x="168" y="935.0" width="37" height="5" fill="#000"/><rect x="994.6" y="1152.2" width="26" height="3.6" fill="#000"/>
<text transform="translate(112.9 849.8) rotate(-90)" x="-3.0" y="1.2" font-size="72.76" textLength="297.7" lengthAdjust="spacingAndGlyphs">Grüneisen</text>
<text transform="translate(112.1 530) rotate(-90)" x="-4.0" y="-0.8" font-size="62.03" textLength="308.1" lengthAdjust="spacingAndGlyphs">parameter</text>
<rect x="1034" y="714" width="287" height="277" fill="#fff" fill-opacity="0.8" stroke="#8c8c8c" stroke-width="2"/>
<circle cx="1079.4" cy="755.8" r="5" fill="none" stroke="#1f77b4" stroke-width="3"/>
<path d="M1074.4 813.6h10l-5 10z" fill="none" stroke="#ff7f0e" stroke-width="3"/>
<rect x="1074.4" y="876.6" width="10" height="10" fill="none" stroke="#2ca02c" stroke-width="3"/>
<path d="M1079.4 937.4l7.07 7.07-7.07 7.07-7.07-7.07z" fill="none" stroke="#d62728" stroke-width="3"/>
<text x="1123.0" y="772.0" font-size="51.97" textLength="132.2" lengthAdjust="spacingAndGlyphs">TA(1)</text>
<text x="1123.0" y="835.0" font-size="51.79" textLength="132.2" lengthAdjust="spacingAndGlyphs">TA(2)</text>
<text x="1124.8" y="897.8" font-size="52.88" textLength="61.8" lengthAdjust="spacingAndGlyphs">LA</text>
<text x="1125.0" y="962.0" font-size="56.89" textLength="176.2" lengthAdjust="spacingAndGlyphs">Optical</text>
</svg>
</body></html>
